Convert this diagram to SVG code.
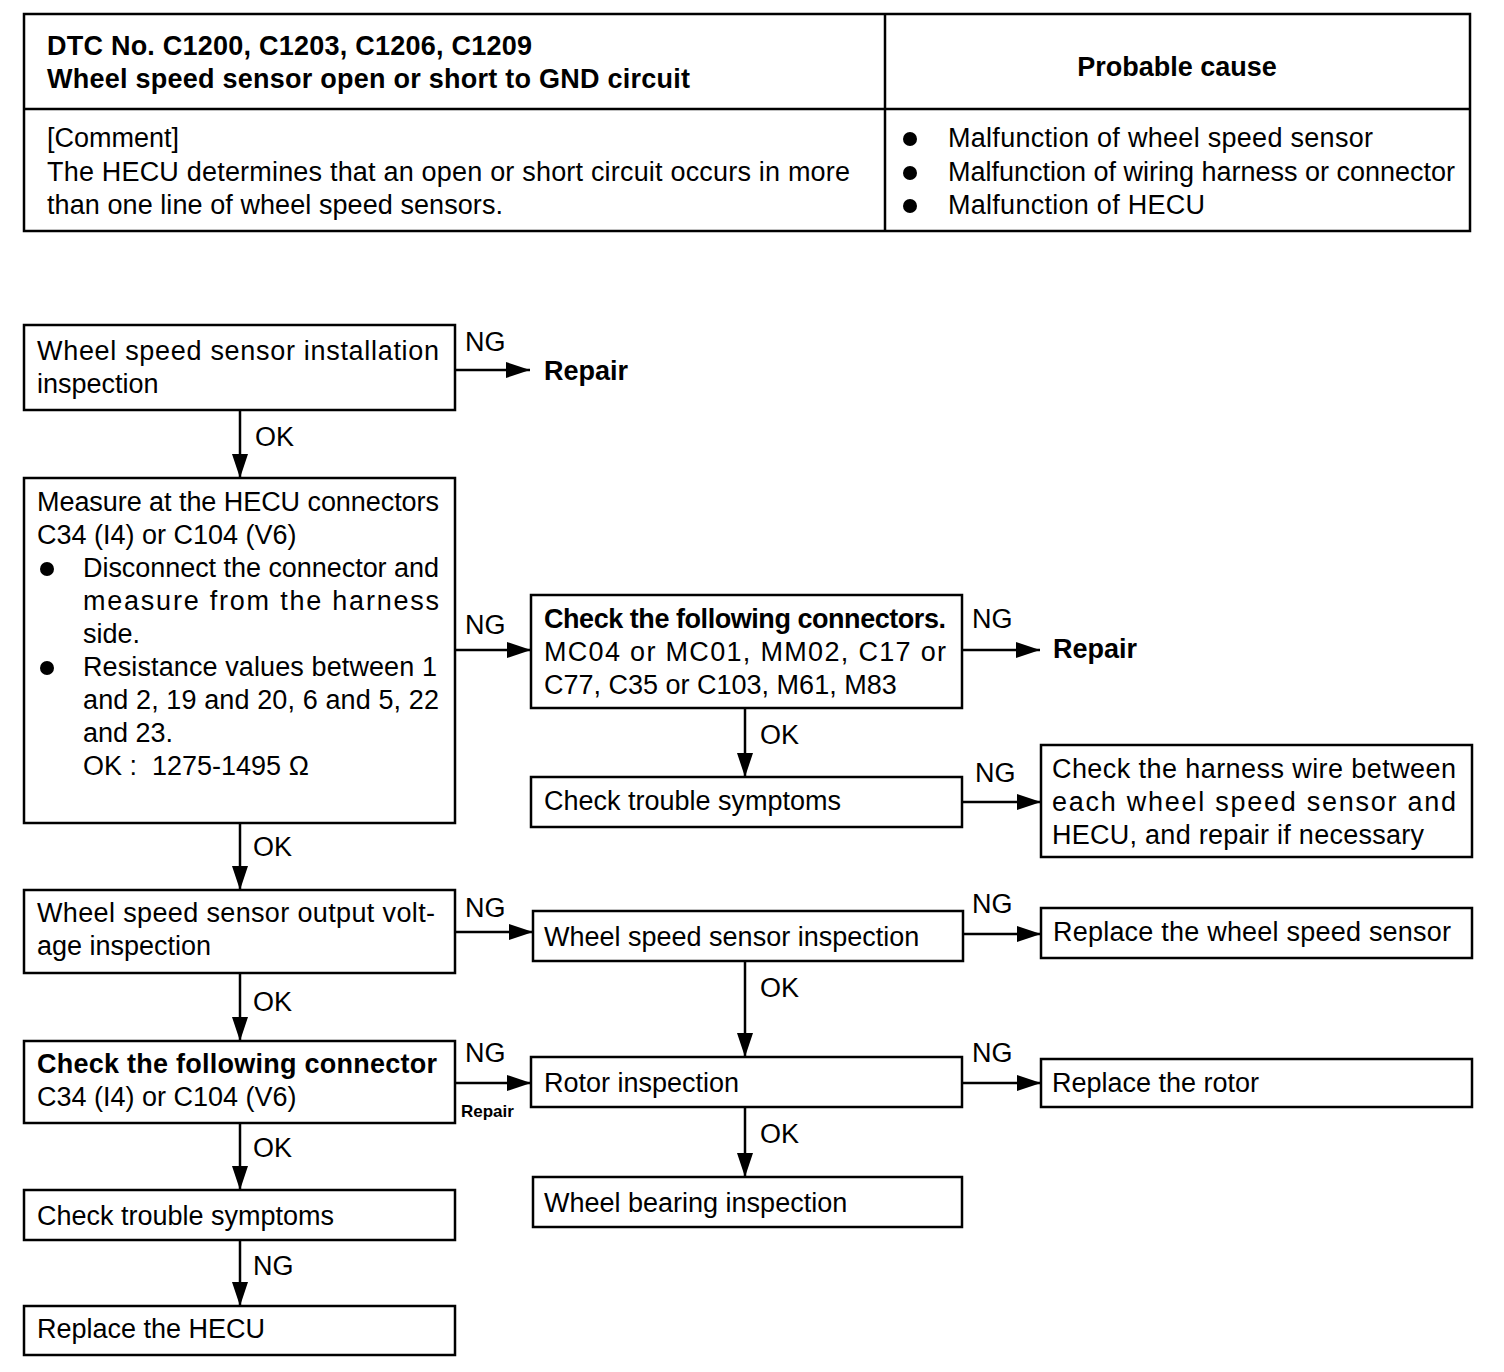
<svg xmlns="http://www.w3.org/2000/svg" width="1504" height="1372" viewBox="0 0 1504 1372">
<style>
text{font-family:"Liberation Sans",Arial,Helvetica,sans-serif;font-size:27px;fill:#000}
.b{font-weight:bold}
.box{fill:#fff;stroke:#000;stroke-width:2.5}
.ln{stroke:#000;stroke-width:2.5;fill:none}
.con{stroke:#000;stroke-width:2.5;fill:none;marker-end:url(#ah)}
.sm{font-size:17px;font-weight:bold}
</style>
<defs>
<marker id="ah" markerUnits="userSpaceOnUse" markerWidth="24" markerHeight="16" refX="24" refY="8" orient="auto">
<path d="M0,0 L24,8 L0,16 z" fill="#000"/>
</marker>
</defs>
<rect width="1504" height="1372" fill="#fff"/>
<g id="header">
<rect class="box" x="24" y="14" width="1446" height="217"/>
<line class="ln" x1="885" y1="14" x2="885" y2="231"/>
<line class="ln" x1="24" y1="109" x2="1470" y2="109"/>
<text class="b" x="47" y="55" textLength="485">DTC No. C1200, C1203, C1206, C1209</text>
<text class="b" x="47" y="88" textLength="643">Wheel speed sensor open or short to GND circuit</text>
<text class="b" x="1177" y="76" text-anchor="middle">Probable cause</text>
<text x="47" y="147">[Comment]</text>
<text x="47" y="181" textLength="803">The HECU determines that an open or short circuit occurs in more</text>
<text x="47" y="214" textLength="456">than one line of wheel speed sensors.</text>
<circle cx="910" cy="139" r="7"/>
<circle cx="910" cy="173" r="7"/>
<circle cx="910" cy="206" r="7"/>
<text x="948" y="147" textLength="425">Malfunction of wheel speed sensor</text>
<text x="948" y="181" textLength="507">Malfunction of wiring harness or connector</text>
<text x="948" y="214" textLength="257">Malfunction of HECU</text>
</g>
<g id="connectors">
<line class="con" x1="455" y1="370" x2="530" y2="370"/>
<line class="con" x1="240" y1="410" x2="240" y2="478"/>
<line class="con" x1="455" y1="650" x2="531" y2="650"/>
<line class="con" x1="962" y1="650" x2="1040" y2="650"/>
<line class="con" x1="745" y1="708" x2="745" y2="777"/>
<line class="con" x1="962" y1="802" x2="1041" y2="802"/>
<line class="con" x1="240" y1="823" x2="240" y2="890"/>
<line class="con" x1="455" y1="932" x2="533" y2="932"/>
<line class="con" x1="963" y1="934" x2="1041" y2="934"/>
<line class="con" x1="745" y1="961" x2="745" y2="1057"/>
<line class="con" x1="240" y1="973" x2="240" y2="1041"/>
<line class="con" x1="455" y1="1083" x2="531" y2="1083"/>
<line class="con" x1="962" y1="1083" x2="1041" y2="1083"/>
<line class="con" x1="745" y1="1107" x2="745" y2="1177"/>
<line class="con" x1="240" y1="1123" x2="240" y2="1190"/>
<line class="con" x1="240" y1="1240" x2="240" y2="1306"/>
<text x="465" y="351">NG</text>
<text class="b" x="544" y="380">Repair</text>
<text x="255" y="446">OK</text>
<text x="465" y="634">NG</text>
<text x="972" y="628">NG</text>
<text class="b" x="1053" y="658">Repair</text>
<text x="760" y="744">OK</text>
<text x="975" y="782">NG</text>
<text x="253" y="856">OK</text>
<text x="465" y="917">NG</text>
<text x="972" y="913">NG</text>
<text x="760" y="997">OK</text>
<text x="253" y="1011">OK</text>
<text x="465" y="1062">NG</text>
<text class="sm" x="461" y="1117">Repair</text>
<text x="972" y="1062">NG</text>
<text x="760" y="1143">OK</text>
<text x="253" y="1157">OK</text>
<text x="253" y="1275">NG</text>
</g>
<g id="n1">
<rect class="box" x="24" y="325" width="431" height="85"/>
<text x="37" y="360" textLength="402">Wheel speed sensor installation</text>
<text x="37" y="393">inspection</text>
</g>
<g id="n2">
<rect class="box" x="24" y="478" width="431" height="345"/>
<text x="37" y="511" textLength="402">Measure at the HECU connectors</text>
<text x="37" y="544">C34 (I4) or C104 (V6)</text>
<circle cx="47" cy="569" r="7"/>
<text x="83" y="577" textLength="356">Disconnect the connector and</text>
<text x="83" y="610" textLength="356">measure from the harness</text>
<text x="83" y="643">side.</text>
<circle cx="47" cy="668" r="7"/>
<text x="83" y="676" textLength="354">Resistance values between 1</text>
<text x="83" y="709" textLength="356">and 2, 19 and 20, 6 and 5, 22</text>
<text x="83" y="742">and 23.</text>
<text x="83" y="775" xml:space="preserve">OK :  1275-1495 Ω</text>
</g>
<g id="n3">
<rect class="box" x="531" y="595" width="431" height="113"/>
<text class="b" x="544" y="628" textLength="402">Check the following connectors.</text>
<text x="544" y="661" textLength="402">MC04 or MC01, MM02, C17 or</text>
<text x="544" y="694">C77, C35 or C103, M61, M83</text>
</g>
<g id="n4">
<rect class="box" x="531" y="777" width="431" height="50"/>
<text x="544" y="810">Check trouble symptoms</text>
</g>
<g id="n5">
<rect class="box" x="1041" y="745" width="431" height="112"/>
<text x="1052" y="778" textLength="404">Check the harness wire between</text>
<text x="1052" y="811" textLength="404">each wheel speed sensor and</text>
<text x="1052" y="844" textLength="372">HECU, and repair if necessary</text>
</g>
<g id="n6">
<rect class="box" x="24" y="890" width="431" height="83"/>
<text x="37" y="922" textLength="398">Wheel speed sensor output volt-</text>
<text x="37" y="955">age inspection</text>
</g>
<g id="n7">
<rect class="box" x="533" y="911" width="430" height="50"/>
<text x="544" y="946">Wheel speed sensor inspection</text>
</g>
<g id="n8">
<rect class="box" x="1041" y="908" width="431" height="50"/>
<text x="1053" y="941" textLength="398">Replace the wheel speed sensor</text>
</g>
<g id="n9">
<rect class="box" x="24" y="1041" width="431" height="82"/>
<text class="b" x="37" y="1073" textLength="400">Check the following connector</text>
<text x="37" y="1106">C34 (I4) or C104 (V6)</text>
</g>
<g id="n10">
<rect class="box" x="531" y="1057" width="431" height="50"/>
<text x="544" y="1092">Rotor inspection</text>
</g>
<g id="n11">
<rect class="box" x="1041" y="1059" width="431" height="48"/>
<text x="1052" y="1092">Replace the rotor</text>
</g>
<g id="n12">
<rect class="box" x="533" y="1177" width="429" height="50"/>
<text x="544" y="1212">Wheel bearing inspection</text>
</g>
<g id="n13">
<rect class="box" x="24" y="1190" width="431" height="50"/>
<text x="37" y="1225">Check trouble symptoms</text>
</g>
<g id="n14">
<rect class="box" x="24" y="1306" width="431" height="49"/>
<text x="37" y="1338">Replace the HECU</text>
</g>
</svg>
